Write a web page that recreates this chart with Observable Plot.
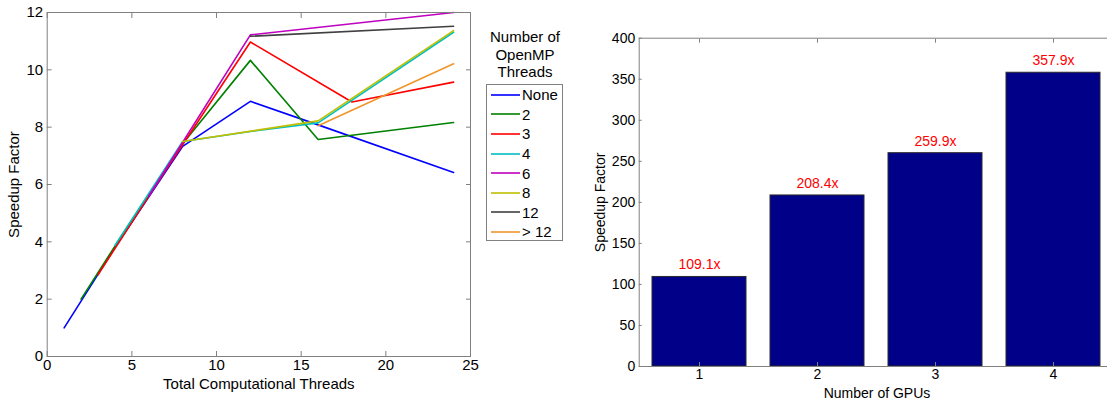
<!DOCTYPE html>
<html>
<head>
<meta charset="utf-8">
<script src="https://cdn.jsdelivr.net/npm/d3@7"></script>
<script src="https://cdn.jsdelivr.net/npm/@observablehq/plot@0.6"></script>
<style>
  html, body { margin: 0; padding: 0; background: #fff; overflow: hidden; }
  #wrap { position: relative; width: 1107px; height: 402px; overflow: hidden; font-family: "Liberation Sans", Arial, sans-serif; }
  #left { position: absolute; left: 0; top: 0; width: 480px; }
  #right { position: absolute; left: 580px; top: 0; width: 540px; }
  #legendTitle { position: absolute; left: 475px; width: 100px; top: 28px; text-align: center; font-size: 15px; line-height: 17.5px; color: #000; }
  #legend { position: absolute; left: 486px; top: 84px; width: 77px; height: 157px; border: 1px solid #808080; background: #fff; box-sizing: border-box; }
  .entry { height: 19.6px; display: flex; align-items: center; font-size: 15px; color: #000; }
  .entry svg { margin-left: 4px; margin-right: 2px; }
</style>
</head>
<body>
<div id="wrap">
  <div id="left"></div>
  <div id="legendTitle">Number of<br>OpenMP<br>Threads</div>
  <div id="legend"></div>
  <div id="right"></div>
</div>
<script>
// ---- Left chart data ----
const seriesNames  = ["None", "2", "3", "4", "6", "8", "12", "> 12"];
const seriesColors = ["#0000ff", "#008000", "#ff0000", "#00bfbf", "#bf00bf", "#bfbf00", "#404040", "#f0952a"];

const threadsNone = [1, 2, 4, 8, 12, 16, 24];
const speedupNone = [1.0, 1.93, 3.8, 7.33, 8.9, 8.08, 6.42];
const threads2 = [2, 4, 8, 12, 16, 24];
const speedup2 = [2.0, 3.85, 7.42, 10.33, 7.57, 8.16];
const threads3 = [3, 6, 12, 18, 24];
const speedup3 = [2.85, 5.6, 10.97, 8.88, 9.57];
const threads4 = [4, 8, 12, 16, 24];
const speedup4 = [3.87, 7.5, 7.85, 8.15, 11.31];
const threads6 = [6, 12, 24];
const speedup6 = [5.6, 11.22, 12.0];
const threads8 = [8, 16, 24];
const speedup8 = [7.5, 8.22, 11.37];
const threads12 = [12, 24];
const speedup12 = [11.17, 11.52];
const threadsOver12 = [16, 24];
const speedupOver12 = [8.05, 10.21];

const leftXTicks = [0, 5, 10, 15, 20, 25];
const leftYTicks = [0, 2, 4, 6, 8, 10, 12];

// ---- Right chart data ----
const gpuCounts   = [1, 2, 3, 4];
const gpuSpeedups = [109.1, 208.4, 259.9, 357.9];
const gpuLabels   = ["109.1x", "208.4x", "259.9x", "357.9x"];
const rightYTicks = [0, 50, 100, 150, 200, 250, 300, 350, 400];

// ---- Build tables ----
const seriesThreads = [threadsNone, threads2, threads3, threads4, threads6, threads8, threads12, threadsOver12];
const seriesSpeedup = [speedupNone, speedup2, speedup3, speedup4, speedup6, speedup8, speedup12, speedupOver12];
const lineRows = [];
seriesNames.forEach((name, i) => {
  seriesThreads[i].forEach((t, j) => lineRows.push({series: name, threads: t, speedup: seriesSpeedup[i][j]}));
});
const gpuRows = gpuCounts.map((g, i) => ({gpus: g, speedup: gpuSpeedups[i], label: gpuLabels[i]}));

const AXIS_GRAY = "#808080";
const FONT = "Liberation Sans, Arial, sans-serif";
const blank = () => "";

// ---- Left chart ----
const left = Plot.plot({
  width: 480,
  height: 402,
  marginLeft: 46.7,
  marginRight: 10,
  marginTop: 12,
  marginBottom: 46,
  style: {fontFamily: FONT, fontSize: "15px", color: "#000", background: "transparent", overflow: "visible", maxWidth: "none"},
  x: {domain: [0, 25]},
  y: {domain: [0, 12]},
  color: {domain: seriesNames, range: seriesColors},
  marks: [
    Plot.line(lineRows, {x: "threads", y: "speedup", z: "series", stroke: "series", strokeWidth: 1.6}),
    Plot.frame({stroke: AXIS_GRAY}),
    Plot.axisX(leftXTicks, {anchor: "bottom", tickSize: 0, tickPadding: 3, fontSize: 15, fill: "#000",
      label: "Total Computational Threads", labelAnchor: "center", labelOffset: 32, labelArrow: "none"}),
    Plot.axisY(leftYTicks, {anchor: "left", tickSize: 0, tickPadding: 4, fontSize: 15, fill: "#000",
      label: "Speedup Factor", labelAnchor: "center", labelOffset: 39, labelArrow: "none"}),
    Plot.axisX(leftXTicks, {anchor: "bottom", tickSize: -5, tickFormat: blank, label: null, stroke: AXIS_GRAY}),
    Plot.axisX(leftXTicks, {anchor: "top", tickSize: -5, tickFormat: blank, label: null, stroke: AXIS_GRAY}),
    Plot.axisY(leftYTicks, {anchor: "left", tickSize: -5, tickFormat: blank, label: null, stroke: AXIS_GRAY}),
    Plot.axisY(leftYTicks, {anchor: "right", tickSize: -5, tickFormat: blank, label: null, stroke: AXIS_GRAY})
  ]
});
document.getElementById("left").appendChild(left);

// ---- Legend (built from the series arrays) ----
const legend = document.getElementById("legend");
seriesNames.forEach((name, i) => {
  const row = document.createElement("div");
  row.className = "entry";
  row.innerHTML = `<svg width="29" height="4"><line x1="0" x2="29" y1="2" y2="2" stroke="${seriesColors[i]}" stroke-width="1.6"/></svg><span>${name}</span>`;
  legend.appendChild(row);
});

// ---- Right chart ----
const right = Plot.plot({
  width: 540,
  height: 402,
  marginLeft: 58.7,
  marginRight: 5.7,
  marginTop: 37.7,
  marginBottom: 36,
  style: {fontFamily: FONT, fontSize: "14px", color: "#000", background: "transparent", overflow: "visible", maxWidth: "none"},
  x: {type: "band", domain: gpuCounts, paddingInner: 0.2, paddingOuter: 0.1},
  y: {domain: [0, 400]},
  marks: [
    Plot.barY(gpuRows, {x: "gpus", y: "speedup", fill: "#000088", stroke: "#2a2a2a", strokeWidth: 1}),
    Plot.text(gpuRows, {x: "gpus", y: "speedup", text: "label", dy: -12, fill: "#ff0000", fontSize: 14}),
    Plot.frame({stroke: AXIS_GRAY}),
    Plot.axisX(gpuCounts, {anchor: "bottom", tickSize: 0, tickPadding: 3, fontSize: 14, fill: "#000",
      label: "Number of GPUs", labelAnchor: "center", labelOffset: 31, labelArrow: "none"}),
    Plot.axisY(rightYTicks, {anchor: "left", tickSize: 0, tickPadding: 4, fontSize: 14, fill: "#000",
      label: "Speedup Factor", labelAnchor: "center", labelOffset: 44, labelArrow: "none"}),
    Plot.axisX(gpuCounts, {anchor: "top", tickSize: -4, tickFormat: blank, label: null, stroke: AXIS_GRAY}),
    Plot.axisX(gpuCounts, {anchor: "bottom", tickSize: -4, tickFormat: blank, label: null, stroke: AXIS_GRAY}),
    Plot.axisY(rightYTicks, {anchor: "left", tickSize: -3, tickFormat: blank, label: null, stroke: AXIS_GRAY})
  ]
});
document.getElementById("right").appendChild(right);
</script>
</body>
</html>
